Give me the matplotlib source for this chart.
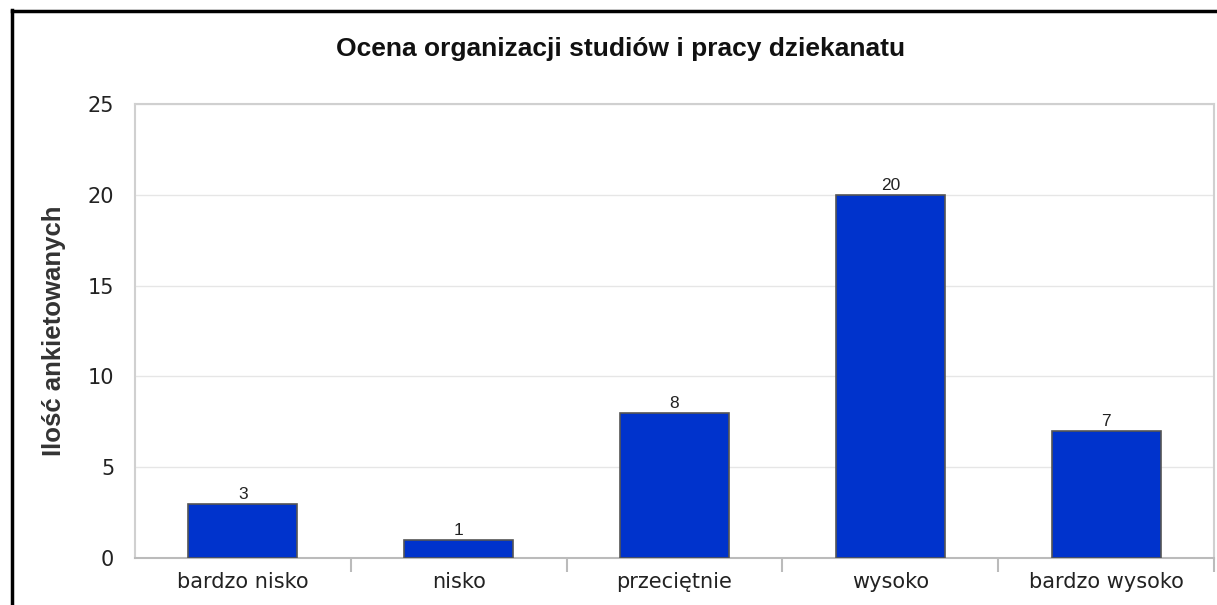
import numpy as np
import matplotlib.pyplot as plt
from matplotlib.lines import Line2D

categories = ['bardzo nisko', 'nisko', 'przeciętnie', 'wysoko', 'bardzo wysoko']
counts = [3, 1, 8, 20, 7]
yticks = [0, 5, 10, 15, 20, 25]

plt.rcParams['font.family'] = 'DejaVu Sans'

W, H = 1217, 605
fig = plt.figure(figsize=(W / 100, H / 100), dpi=100)

# plot area in pixels: left 135, right 1214, top 104, bottom 558
ax = fig.add_axes([135 / W, 1 - 558 / H, (1214 - 135) / W, (558 - 104) / H])

x = np.arange(len(categories))
ax.bar(x, counts, width=0.505, color='#0033cc', edgecolor='#555555', linewidth=1.2, zorder=3)
for xi, v in zip(x, counts):
    ax.text(xi, v + 0.1, str(v), ha='center', va='bottom', fontsize=12.5, color='#222222',
            family='Liberation Sans', zorder=4)

ax.set_xlim(-0.5, len(categories) - 0.5)
ax.set_ylim(0, 25)
ax.set_yticks(yticks)
ax.yaxis.grid(True, color='#e6e6e6', linewidth=1, zorder=0)
ax.tick_params(axis='y', length=0, labelsize=15, pad=15, labelcolor='#222222')

# category labels centered, tick marks at the category boundaries
ax.set_xticks(x)
ax.set_xticklabels(categories, fontsize=15, color='#222222')
ax.tick_params(axis='x', length=0, pad=10)
ax.set_xticks(np.arange(len(categories)) + 0.5, minor=True)
ax.tick_params(axis='x', which='minor', length=10, color='#bbbbbb', width=1.5)

for side in ['top', 'left', 'right']:
    ax.spines[side].set_color('#d0d0d0')
    ax.spines[side].set_linewidth(1.5)
ax.spines['bottom'].set_color('#bbbbbb')
ax.spines['bottom'].set_linewidth(1.5)

ax.set_ylabel('Ilość ankietowanych', fontsize=18.5, fontweight='bold', color='#333333',
              family='Liberation Sans')
ax.yaxis.set_label_coords((66 - 135) / (1214 - 135), 0.5)

fig.text(621 / W, 1 - 49 / H, 'Ocena organizacji studiów i pracy dziekanatu', ha='center', va='center',
         fontsize=19, fontweight='bold', family='Liberation Sans', color='#111111')

# outer black frame (left and top edges visible)
fig.add_artist(Line2D([12 / W, 12 / W], [0, 1 - 10 / H], transform=fig.transFigure, color='black', linewidth=2.5))
fig.add_artist(Line2D([12 / W, 1], [1 - 11 / H, 1 - 11 / H], transform=fig.transFigure, color='black', linewidth=2.5))

fig.savefig('out.png', dpi=100)
